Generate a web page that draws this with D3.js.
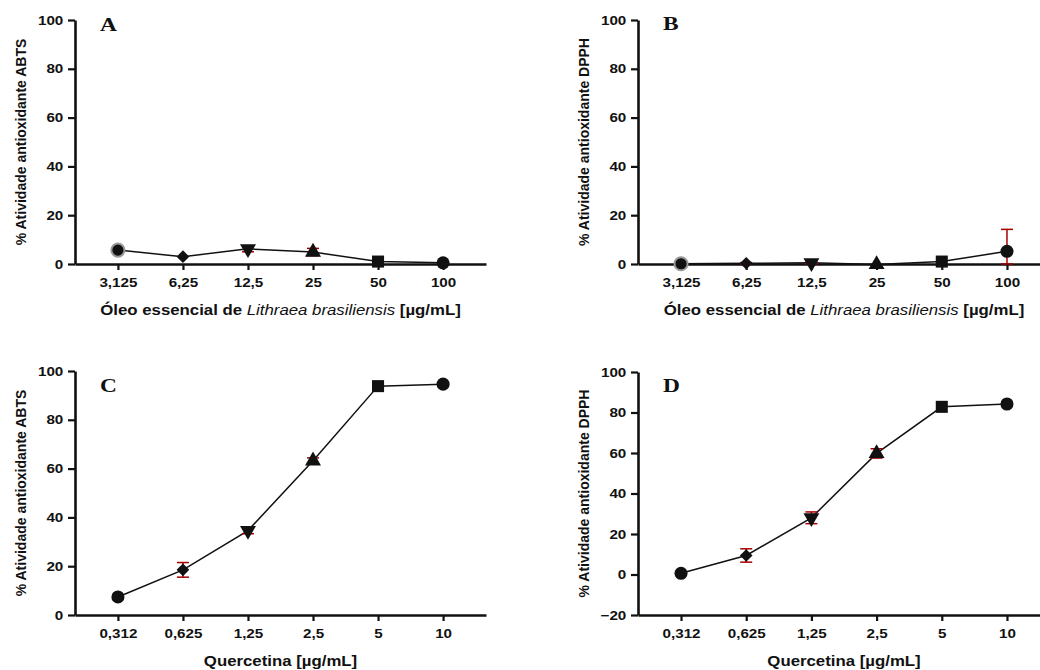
<!DOCTYPE html>
<html lang="pt">
<head>
<meta charset="UTF-8">
<title>Atividade antioxidante</title>
<script src="https://cdn.jsdelivr.net/npm/d3@7"></script>
<style>
    body { margin: 0; background: #fff; }
    svg { display: block; }
    .tick text { font-family: "Liberation Sans", Arial, sans-serif; font-weight: bold; font-size: 13px; fill: #111; }
    .ytitle { font-family: "Liberation Sans", Arial, sans-serif; font-weight: bold; font-size: 14px; fill: #111; }
    .xtitle { font-family: "Liberation Sans", Arial, sans-serif; font-weight: bold; font-size: 14px; fill: #111; }
    .plabel { font-family: "Liberation Serif", "Times New Roman", serif; font-weight: bold; font-size: 18px; fill: #111; }
</style>
</head>
<body>
<svg id="chart" width="1040" height="670"></svg>
<script>
// doses (x categories)
const oilDoses = ["3,125", "6,25", "12,5", "25", "50", "100"];
const querDoses = ["0,312", "0,625", "1,25", "2,5", "5", "10"];
const markerShapes = ["circle", "diamond", "triangleDown", "triangleUp", "square", "circle"];

// % antioxidant activity, mean and error
const abtsOil = [5.7, 3.0, 6.2, 4.9, 1.0, 0.5];
const abtsOilErr = [0, 0, 1.2, 1.5, 0, 0];
const dpphOil = [0.1, 0.3, 0.5, -0.2, 1.0, 5.2];
const dpphOilErr = [0, 0.3, 0.4, 0, 0, 9.0];
const abtsQuer = [7.4, 18.5, 34.6, 63.2, 93.8, 94.6];
const abtsQuerErr = [0, 3.0, 1.3, 1.2, 0, 0];
const dpphQuer = [0.6, 9.4, 28.0, 59.8, 82.8, 84.2];
const dpphQuerErr = [0, 3.3, 2.9, 2.3, 0, 0];

const yTicksPos = [0, 20, 40, 60, 80, 100];
const yTicksNeg = [-20, 0, 20, 40, 60, 80, 100];

const oilTitle = ["Óleo essencial de ", "Lithraea brasiliensis", " [µg/mL]"];
const querTitle = ["Quercetina [µg/mL]"];

const svg = d3.select("#chart");
const SX = 1.17; // the figure is a bit stretched horizontally

const panels = [
    { label: "A", labelY: 31, left: 75, right: 486, top: 20, bottom: 264, domain: [0, 100], ticks: yTicksPos,
      cats: oilDoses, values: abtsOil, errs: abtsOilErr, yTitle: "% Atividade antioxidante ABTS", xTitle: oilTitle, halo: true },
    { label: "B", labelY: 30, left: 638, right: 1050, top: 20, bottom: 264, domain: [0, 100], ticks: yTicksPos,
      cats: oilDoses, values: dpphOil, errs: dpphOilErr, yTitle: "% Atividade antioxidante DPPH", xTitle: oilTitle, halo: true },
    { label: "C", labelY: 392, left: 75, right: 486, top: 371, bottom: 615, domain: [0, 100], ticks: yTicksPos,
      cats: querDoses, values: abtsQuer, errs: abtsQuerErr, yTitle: "% Atividade antioxidante ABTS", xTitle: querTitle, halo: false },
    { label: "D", labelY: 392, left: 638, right: 1050, top: 372, bottom: 615, domain: [-20, 100], ticks: yTicksNeg,
      cats: querDoses, values: dpphQuer, errs: dpphQuerErr, yTitle: "% Atividade antioxidante DPPH", xTitle: querTitle, halo: false }
];

function markerPath(shape) {
    if (shape === "circle") return d3.symbol(d3.symbolCircle, 135)();
    if (shape === "square") return d3.symbol(d3.symbolSquare, 145)();
    if (shape === "diamond") return d3.symbol(d3.symbolSquare, 80)();
    return d3.symbol(d3.symbolTriangle, 110)();
}
function markerRotate(shape) {
    if (shape === "diamond") return 45;
    if (shape === "triangleDown") return 180;
    return 0;
}

panels.forEach(p => {
    const x = d3.scalePoint().domain(p.cats).range([p.left, p.right]).padding(0.66);
    const y = d3.scaleLinear().domain(p.domain).range([p.bottom, p.top]);
    const g = svg.append("g");

    // axes
    const yAx = g.append("g")
        .attr("transform", `translate(${p.left},0)`)
        .call(d3.axisLeft(y).tickValues(p.ticks).tickFormat(d3.format("d")).tickSize(7).tickSizeOuter(0).tickPadding(3));
    const xAx = g.append("g")
        .attr("transform", `translate(0,${p.bottom})`)
        .call(d3.axisBottom(x).tickSize(6).tickSizeOuter(0).tickPadding(5));
    [yAx, xAx].forEach(a => {
        a.select(".domain").attr("stroke", "#111").attr("stroke-width", 2.6);
        a.selectAll(".tick line").attr("stroke", "#111").attr("stroke-width", 2.2);
        a.selectAll(".tick text").attr("transform", `scale(${SX},1)`);
    });
    xAx.selectAll(".tick text").attr("dy", "0.9em");

    const pts = p.cats.map((c, i) => ({ c, v: p.values[i], e: p.errs[i], shape: markerShapes[i], i }));

    // connecting line
    g.append("path")
        .datum(pts)
        .attr("fill", "none")
        .attr("stroke", "#111")
        .attr("stroke-width", 1.5)
        .attr("d", d3.line().x(d => x(d.c)).y(d => y(d.v)));

    // error bars
    const lo = d => y(Math.max(d.v - d.e, p.domain[0]));
    const eb = g.selectAll(".err").data(pts.filter(d => d.e > 0)).enter().append("g")
        .attr("stroke", "#a50000").attr("stroke-width", 1.5).attr("fill", "none");
    eb.append("line")
        .attr("x1", d => x(d.c)).attr("x2", d => x(d.c))
        .attr("y1", lo).attr("y2", d => y(d.v + d.e));
    eb.append("line")
        .attr("x1", d => x(d.c) - 6).attr("x2", d => x(d.c) + 6)
        .attr("y1", d => y(d.v + d.e)).attr("y2", d => y(d.v + d.e));
    eb.append("line")
        .attr("x1", d => x(d.c) - 6).attr("x2", d => x(d.c) + 6)
        .attr("y1", lo).attr("y2", lo);

    // markers
    g.selectAll(".mk").data(pts).enter().append("path")
        .attr("d", d => markerPath(d.shape))
        .attr("transform", d => `translate(${x(d.c)},${y(d.v)}) rotate(${markerRotate(d.shape)})`)
        .attr("fill", "#111")
        .attr("stroke", d => (p.halo && d.i === 0) ? "#999" : "none")
        .attr("stroke-width", 2);

    // titles
    const yMid = (p.top + p.bottom) / 2;
    const xMid = (p.left + p.right) / 2;
    g.append("text")
        .attr("class", "ytitle")
        .attr("text-anchor", "middle")
        .attr("transform", `translate(${p.left - 49},${yMid}) rotate(-90)`)
        .text(p.yTitle);

    const xt = g.append("text")
        .attr("class", "xtitle")
        .attr("text-anchor", "middle")
        .attr("transform", `translate(${xMid},${p.bottom + 51}) scale(1.2,1)`);
    p.xTitle.forEach((s, k) => {
        xt.append("tspan")
            .attr("font-style", k === 1 ? "italic" : null)
            .attr("font-weight", k === 1 ? "normal" : null)
            .text(s);
    });

    g.append("text")
        .attr("class", "plabel")
        .attr("transform", `translate(${p.left + 25},${p.labelY}) scale(1.3,1)`)
        .text(p.label);
});
</script>
</body>
</html>
